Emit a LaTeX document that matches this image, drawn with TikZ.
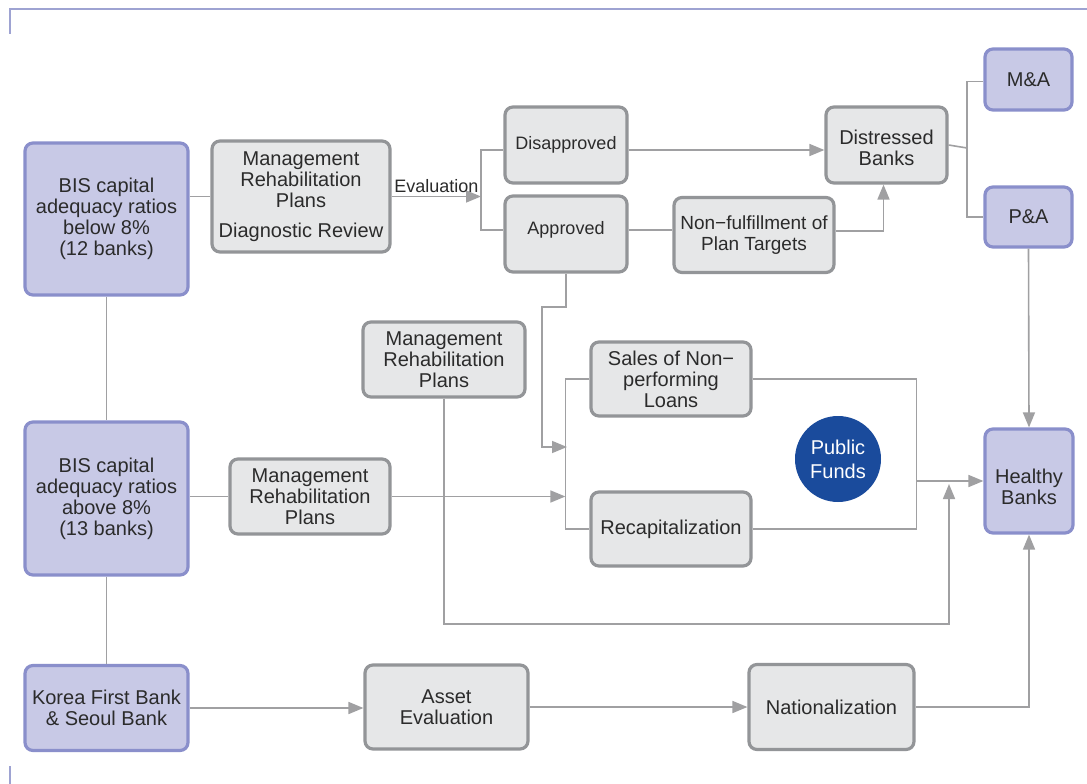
\documentclass[tikz,border=0pt]{standalone}
\usepackage{fontspec}
\setmainfont{Liberation Sans}
\usetikzlibrary{arrows.meta,calc}
\definecolor{pfill}{HTML}{C8C9E6}
\definecolor{pdraw}{HTML}{8A8FCB}
\definecolor{gfill}{HTML}{E6E7E8}
\definecolor{gdraw}{HTML}{939598}
\definecolor{lncol}{HTML}{A0A0A2}
\definecolor{pfblue}{HTML}{1A4B9C}
\definecolor{framecol}{HTML}{9EA3D2}
\definecolor{txt}{HTML}{2B2B2B}
\tikzset{
  basebox/.style={rounded corners=8pt, line width=3.2pt, align=center, inner sep=0pt,
    text=txt, font=\fontsize{20}{21}\selectfont},
  pbox/.style={basebox, fill=pfill, draw=pdraw},
  gbox/.style={basebox, fill=gfill, draw=gdraw},
  ln/.style={draw=lncol, line width=1.6pt},
  arr/.style={ln, -{Triangle[length=15pt,width=12pt]}, color=lncol},
  framel/.style={draw=framecol, line width=1.8pt},
}
\begin{document}
\begin{tikzpicture}[x=1pt,y=-1pt]
\useasboundingbox (0,0) rectangle (1087,784);
\fill[white] (0,0) rectangle (1087,784);
\draw[framel] (10,34) -- (10,9) -- (1087,9);
\draw[framel] (10,766) -- (10,784);

% left column
\node[pbox, minimum width=163pt, minimum height=152pt] (bisb) at (106.5,219) {BIS capital\\adequacy ratios\\below 8\%\\(12 banks)};
\node[pbox, minimum width=163pt, minimum height=153pt] (bisa) at (106.5,498.5) {BIS capital\\adequacy ratios\\above 8\%\\(13 banks)};
\node[pbox, minimum width=163pt, minimum height=85pt] (kfb) at (106.5,708) {Korea First Bank\\\& Seoul Bank};

% top row
\node[gbox, minimum width=178pt, minimum height=111pt] (mrpd) at (301,196.5) {Management\\Rehabilitation\\Plans\\[9pt]Diagnostic Review};
\node[gbox, minimum width=122pt, minimum height=76pt, font=\fontsize{18}{20}\selectfont] (disap) at (566,145) {Disapproved};
\node[gbox, minimum width=122pt, minimum height=76pt, font=\fontsize{18}{20}\selectfont, text depth=13pt] (appr) at (566,234) {Approved};
\node[gbox, minimum width=160pt, minimum height=75pt, font=\fontsize{19}{21}\selectfont] (nonf) at (754,235) {Non−fulfillment of\\Plan Targets};
\node[gbox, minimum width=121pt, minimum height=76pt, text height=41pt] (dist) at (886.5,145) {Distressed\\Banks};
\node[pbox, minimum width=87pt, minimum height=61pt] (ma) at (1028.5,79.5) {M\&A};
\node[pbox, minimum width=87pt, minimum height=60pt] (pa) at (1028.5,217) {P\&A};

% middle
\node[gbox, minimum width=162pt, minimum height=75pt] (mrpm) at (444,359.5) {Management\\Rehabilitation\\Plans};
\node[gbox, minimum width=160pt, minimum height=75pt] (mrpl) at (310,496.5) {Management\\Rehabilitation\\Plans};
\node[gbox, minimum width=160pt, minimum height=74pt] (sales) at (671,379) {Sales of Non−\\performing\\Loans};
\node[gbox, minimum width=160pt, minimum height=74pt] (recap) at (671,529) {Recapitalization};
\node[circle, fill=pfblue, minimum size=86pt, inner sep=0pt, align=center, text=white,
  font=\fontsize{20}{24}\selectfont] (pf) at (838,459) {Public\\Funds};
\node[pbox, minimum width=88pt, minimum height=104pt, text height=47pt] (healthy) at (1029,481) {Healthy\\Banks};

% bottom row
\node[gbox, minimum width=163pt, minimum height=84pt] (asset) at (446.5,707) {Asset\\Evaluation};
\node[gbox, minimum width=165pt, minimum height=85pt] (nat) at (831.5,707) {Nationalization};

% coordinates
\coordinate (split) at (481,196.5);
\coordinate (dsp) at (967,148);
\coordinate (ap1) at (542,307);
\coordinate (ap2) at (567,447);
\coordinate (loopc) at (949,624);

% connectors
\draw[ln] (bisb.south) -- (bisa.north);
\draw[ln] (bisa.south) -- (kfb.north);
\draw[ln] (bisb.east |- mrpd.west) -- (mrpd.west);
\draw[arr] (mrpd.east) -- node[above, inner sep=3pt, text=txt, font=\fontsize{18}{20}\selectfont]{Evaluation} (split);
\draw[ln] ([yshift=-5pt]disap.west) -| (split) |- ([yshift=4pt]appr.west);
\draw[arr] ([yshift=-5pt]disap.east) -- ([yshift=-5pt]dist.west);
\draw[ln] ([yshift=4pt]appr.east) -- ([yshift=4pt]appr.east -| nonf.west);
\draw[arr] ([yshift=4pt]nonf.east) -| ([xshift=-3pt]dist.south);
\draw[ln] (dist.east) -- (dsp);
\draw[ln] ([yshift=-2pt]ma.west) -| (dsp) |- (pa.west);
\draw[arr] (pa.south) -- (healthy.north);

\draw[ln] (sales.west) -- ++(-24,0) coordinate (brL) |- (recap.west);
\draw[ln] (sales.east) -- ++(164,0) coordinate (brR) |- (recap.east);
\draw[arr] (appr.south) |- (ap1) |- (ap2);
\draw[ln] (bisa.east |- mrpl.west) -- (mrpl.west);
\draw[arr] (mrpl.east) -- (mrpl.east -| brL);
\draw[arr] (brR |- healthy.west) -- (healthy.west);
\draw[arr] (mrpm.south) |- (loopc) -- ([yshift=-3pt]loopc |- healthy.west);

\draw[arr] (kfb.east) -- (kfb.east -| asset.west);
\draw[arr] (asset.east) -- (nat.west);
\draw[arr] (nat.east) -| (healthy.south);
\end{tikzpicture}
\end{document}
